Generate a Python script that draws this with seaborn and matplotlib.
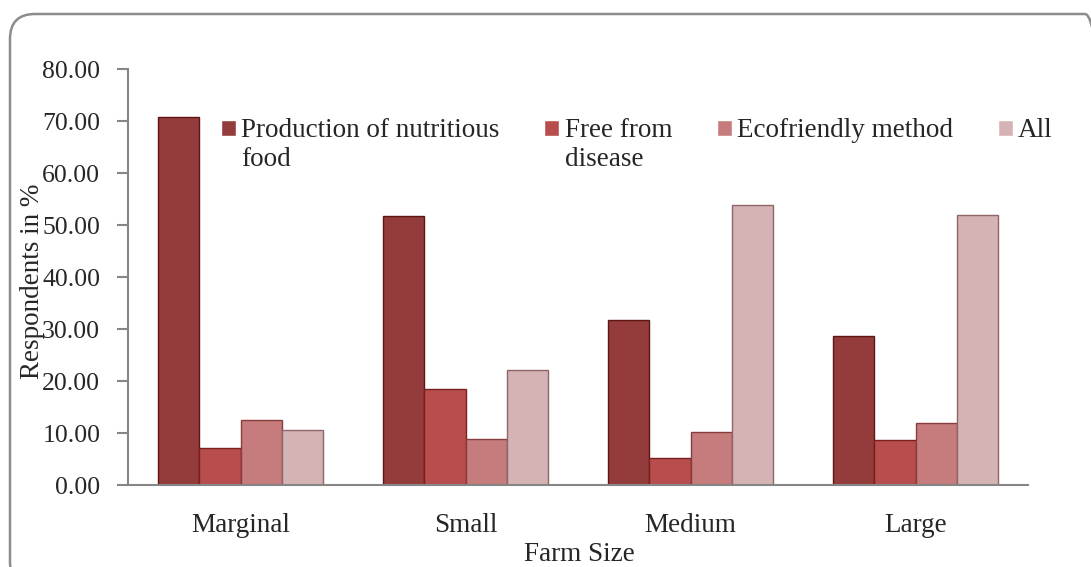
import numpy as np
import matplotlib
matplotlib.use('Agg')
import matplotlib.pyplot as plt
import pandas as pd
import seaborn as sns
from matplotlib.patches import Rectangle, FancyBboxPatch
from matplotlib.legend_handler import HandlerPatch
from matplotlib.transforms import IdentityTransform

# data
farm_sizes = ['Marginal', 'Small', 'Medium', 'Large']
series = ['Production of nutritious food', 'Free from disease', 'Ecofriendly method', 'All']
legend_labels = ['Production of nutritious\nfood', 'Free from\ndisease', 'Ecofriendly method\n', 'All\n']
nutritious = [70.7, 51.7, 31.7, 28.6]
disease_free = [7.2, 18.4, 5.1, 8.6]
ecofriendly = [12.5, 8.8, 10.2, 11.9]
all_reasons = [10.6, 22.2, 53.8, 51.9]
colors = ['#a32d2d', '#c83c3c', '#d27070', '#dbadb0']
edges = ['#5e1515', '#7a1f1f', '#8a3d3d', '#8e6668']

rows = []
for name, vals in zip(series, [nutritious, disease_free, ecofriendly, all_reasons]):
    for fs, v in zip(farm_sizes, vals):
        rows.append({'Farm Size': fs, 'Reason': name, 'Value': v})
df = pd.DataFrame(rows)

sns.set_style('white')
plt.rcParams['font.family'] = ['Liberation Serif', 'DejaVu Serif']
plt.rcParams['font.size'] = 19.5

fig = plt.figure(figsize=(10.91, 5.67), dpi=100)
ax = fig.add_axes([128 / 1091, 82 / 567, 900 / 1091, 416 / 567])

sns.barplot(data=df, x='Farm Size', y='Value', hue='Reason', hue_order=series,
            order=farm_sizes, palette=colors, width=0.73, ax=ax, legend=True)

# darker outline per series
for cont, ec in zip(ax.containers, edges):
    for bar in cont:
        bar.set_edgecolor(ec)
        bar.set_linewidth(1.0)

# axes settings
ax.set_ylim(0, 80)
ax.set_xlim(-0.5, 3.5)
ax.set_yticks(np.arange(0, 81, 10))
ax.set_yticklabels(['%.2f' % t for t in np.arange(0, 81, 10)])
ax.set_xticks(range(4))
ax.set_xticks(np.arange(-0.5, 4, 1), minor=True)
ax.tick_params(axis='x', which='major', length=0, pad=20, labelsize=19.5)
ax.tick_params(axis='x', which='minor', length=8, width=1.5, color='#868686', direction='out')
ax.tick_params(axis='y', length=8, width=1.5, color='#868686', direction='out', pad=12, labelsize=18.5, left=True)
for s in ['top', 'right']:
    ax.spines[s].set_visible(False)
for s in ['left', 'bottom']:
    ax.spines[s].set_color('#868686')
    ax.spines[s].set_linewidth(1.5)

ax.set_xlabel('Farm Size', fontsize=19.5)
ax.xaxis.set_label_coords(0.501, -0.137)
ax.set_ylabel('Respondents in %', fontsize=19.5)
ax.yaxis.set_label_coords(-0.092, 0.49)


# legend marker sits on the first text line
def top_square(legend, orig_handle, xdescent, ydescent, width, height, fontsize):
    return Rectangle((-xdescent, -ydescent + 0.62 * fontsize), width, height)


handles, _ = ax.get_legend_handles_labels()
leg = ax.legend(handles, legend_labels, ncol=4, frameon=False, fontsize=19.5,
                loc='upper left', bbox_to_anchor=(221 / 1091, 1 - 118 / 567),
                bbox_transform=fig.transFigure, borderpad=0, borderaxespad=0,
                handlelength=0.55, handleheight=0.55, handletextpad=0.2,
                columnspacing=1.65,
                handler_map={Rectangle: HandlerPatch(patch_func=top_square)})
for t in leg.get_texts():
    t.set_linespacing(1.22)

# rounded border around the chart
border = FancyBboxPatch((10, -20), 1100, 553 + 20, boxstyle='round,pad=0,rounding_size=25',
                        transform=IdentityTransform(), facecolor='none',
                        edgecolor='#8c8c8c', linewidth=1.8)
fig.patches.append(border)

plt.savefig('out.png', dpi=100)
plt.close()
